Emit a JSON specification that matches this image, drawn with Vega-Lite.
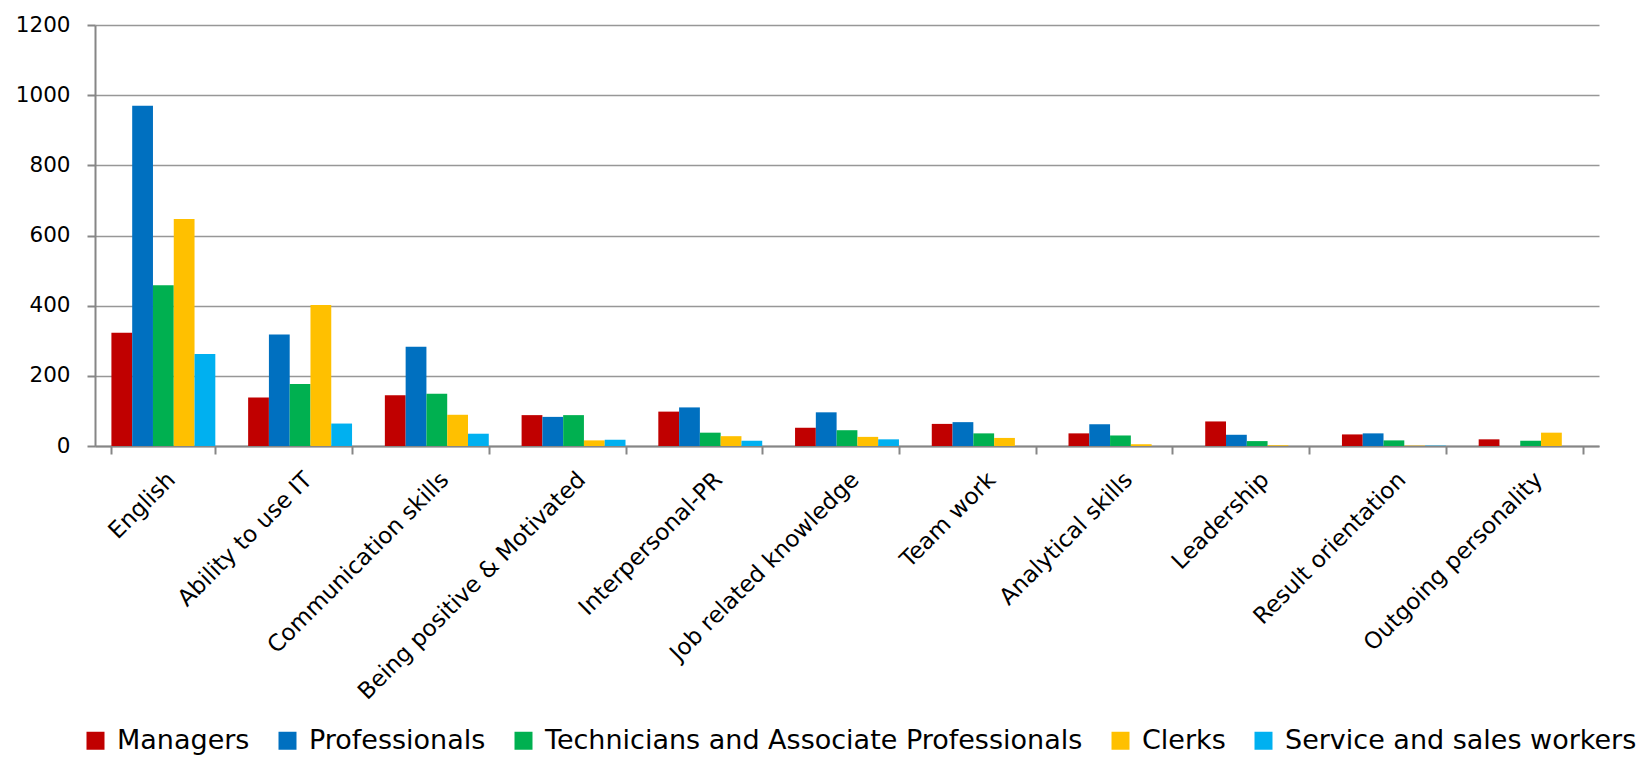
{
  "$schema": "https://vega.github.io/schema/vega-lite/v6.json",
  "width": 1504,
  "height": 421,
  "autosize": {"type": "none"},
  "padding": {"left": 95, "top": 25, "right": 43, "bottom": 311},
  "background": "white",
  "config": {"font": "DejaVu Sans", "view": {"stroke": null}},
  "data": {
    "values": [
      {"skill": "English", "group": "Managers", "count": 323},
      {"skill": "English", "group": "Professionals", "count": 970},
      {"skill": "English", "group": "Technicians and Associate Professionals", "count": 458},
      {"skill": "English", "group": "Clerks", "count": 647},
      {"skill": "English", "group": "Service and sales workers", "count": 262},
      {"skill": "Ability to use IT", "group": "Managers", "count": 138},
      {"skill": "Ability to use IT", "group": "Professionals", "count": 318},
      {"skill": "Ability to use IT", "group": "Technicians and Associate Professionals", "count": 177},
      {"skill": "Ability to use IT", "group": "Clerks", "count": 402},
      {"skill": "Ability to use IT", "group": "Service and sales workers", "count": 64},
      {"skill": "Communication skills", "group": "Managers", "count": 145},
      {"skill": "Communication skills", "group": "Professionals", "count": 283},
      {"skill": "Communication skills", "group": "Technicians and Associate Professionals", "count": 149},
      {"skill": "Communication skills", "group": "Clerks", "count": 89},
      {"skill": "Communication skills", "group": "Service and sales workers", "count": 35},
      {"skill": "Being positive & Motivated", "group": "Managers", "count": 88},
      {"skill": "Being positive & Motivated", "group": "Professionals", "count": 83},
      {"skill": "Being positive & Motivated", "group": "Technicians and Associate Professionals", "count": 88},
      {"skill": "Being positive & Motivated", "group": "Clerks", "count": 16},
      {"skill": "Being positive & Motivated", "group": "Service and sales workers", "count": 18},
      {"skill": "Interpersonal-PR", "group": "Managers", "count": 98},
      {"skill": "Interpersonal-PR", "group": "Professionals", "count": 110},
      {"skill": "Interpersonal-PR", "group": "Technicians and Associate Professionals", "count": 38},
      {"skill": "Interpersonal-PR", "group": "Clerks", "count": 28},
      {"skill": "Interpersonal-PR", "group": "Service and sales workers", "count": 15},
      {"skill": "Job related knowledge", "group": "Managers", "count": 52},
      {"skill": "Job related knowledge", "group": "Professionals", "count": 96},
      {"skill": "Job related knowledge", "group": "Technicians and Associate Professionals", "count": 45},
      {"skill": "Job related knowledge", "group": "Clerks", "count": 26},
      {"skill": "Job related knowledge", "group": "Service and sales workers", "count": 19},
      {"skill": "Team work", "group": "Managers", "count": 63},
      {"skill": "Team work", "group": "Professionals", "count": 68},
      {"skill": "Team work", "group": "Technicians and Associate Professionals", "count": 36},
      {"skill": "Team work", "group": "Clerks", "count": 23},
      {"skill": "Team work", "group": "Service and sales workers", "count": 0},
      {"skill": "Analytical skills", "group": "Managers", "count": 36},
      {"skill": "Analytical skills", "group": "Professionals", "count": 62},
      {"skill": "Analytical skills", "group": "Technicians and Associate Professionals", "count": 30},
      {"skill": "Analytical skills", "group": "Clerks", "count": 5},
      {"skill": "Analytical skills", "group": "Service and sales workers", "count": 0},
      {"skill": "Leadership", "group": "Managers", "count": 70},
      {"skill": "Leadership", "group": "Professionals", "count": 32},
      {"skill": "Leadership", "group": "Technicians and Associate Professionals", "count": 14},
      {"skill": "Leadership", "group": "Clerks", "count": 2},
      {"skill": "Leadership", "group": "Service and sales workers", "count": 0},
      {"skill": "Result orientation", "group": "Managers", "count": 33},
      {"skill": "Result orientation", "group": "Professionals", "count": 36},
      {"skill": "Result orientation", "group": "Technicians and Associate Professionals", "count": 16},
      {"skill": "Result orientation", "group": "Clerks", "count": 1},
      {"skill": "Result orientation", "group": "Service and sales workers", "count": 1},
      {"skill": "Outgoing personality", "group": "Managers", "count": 19},
      {"skill": "Outgoing personality", "group": "Professionals", "count": 0},
      {"skill": "Outgoing personality", "group": "Technicians and Associate Professionals", "count": 15},
      {"skill": "Outgoing personality", "group": "Clerks", "count": 38},
      {"skill": "Outgoing personality", "group": "Service and sales workers", "count": 0}
    ]
  },
  "mark": {"type": "bar"},
  "encoding": {
    "x": {
      "field": "skill",
      "type": "nominal",
      "sort": null,
      "scale": {"paddingInner": 0.24, "paddingOuter": 0.12},
      "axis": {
        "title": null,
        "labelAngle": -45,
        "labelAlign": "right",
        "labelBaseline": "top",
        "labelFontSize": 23,
        "labelColor": "#000000",
        "labelPadding": 14,
        "labelDx": -3,
        "labelLimit": 400,
        "tickBand": "extent",
        "tickSize": 8,
        "tickColor": "#868686",
        "tickWidth": 2,
        "domainColor": "#868686",
        "domainWidth": 2
      }
    },
    "xOffset": {
      "field": "group",
      "type": "nominal",
      "sort": ["Managers", "Professionals", "Technicians and Associate Professionals", "Clerks", "Service and sales workers"],
      "scale": {"paddingInner": 0, "paddingOuter": 0}
    },
    "y": {
      "field": "count",
      "type": "quantitative",
      "scale": {"domain": [0, 1200], "nice": false},
      "axis": {
        "title": null,
        "values": [0, 200, 400, 600, 800, 1000, 1200],
        "format": "d",
        "labelFontSize": 21.5,
        "labelColor": "#000000",
        "labelPadding": 17,
        "tickSize": 8,
        "tickColor": "#868686",
        "tickWidth": 2,
        "domainColor": "#868686",
        "domainWidth": 2,
        "gridColor": "#979797",
        "gridWidth": 1.5
      }
    },
    "color": {
      "field": "group",
      "type": "nominal",
      "sort": ["Managers", "Professionals", "Technicians and Associate Professionals", "Clerks", "Service and sales workers"],
      "scale": {
        "domain": ["Managers", "Professionals", "Technicians and Associate Professionals", "Clerks", "Service and sales workers"],
        "range": ["#C00000", "#0070C0", "#00B050", "#FFC000", "#00B0F0"]
      },
      "legend": {
        "title": null,
        "orient": "none",
        "direction": "horizontal",
        "legendX": -13,
        "legendY": 702,
        "symbolType": "square",
        "symbolSize": 324,
        "symbolStrokeWidth": 0,
        "labelFontSize": 27,
        "labelColor": "#000000",
        "labelOffset": 8,
        "labelLimit": 800,
        "columnPadding": 24
      }
    }
  }
}
